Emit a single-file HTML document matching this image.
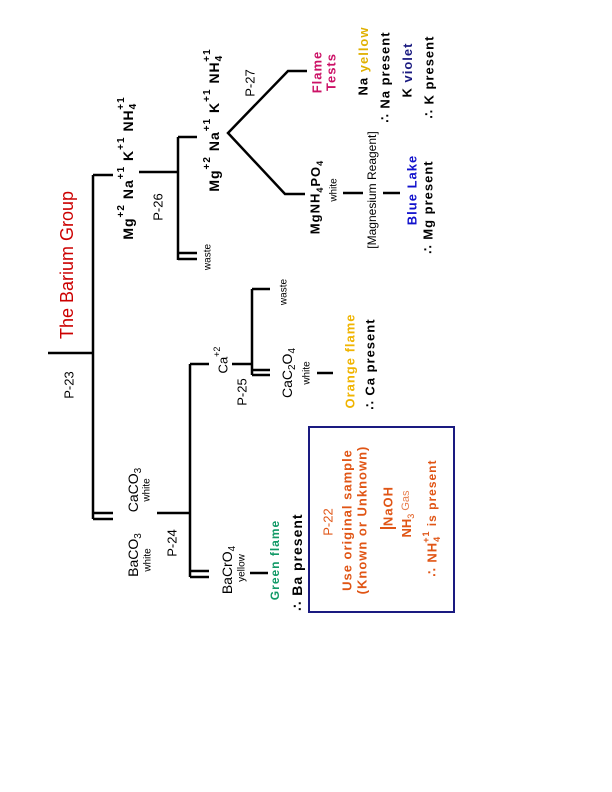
<!DOCTYPE html>
<html><head><meta charset="utf-8"><style>
html,body{margin:0;padding:0;background:#fff;}
svg{display:block;}
text{font-family:"Liberation Sans",Arial,sans-serif;}
.b{font-weight:bold;letter-spacing:1px;}
</style></head><body>
<svg width="612" height="792" viewBox="0 0 612 792" xmlns="http://www.w3.org/2000/svg">
<g stroke="#000" stroke-width="2.5" fill="none">
<line x1="48" y1="353" x2="93" y2="353"/>
<line x1="93" y1="175" x2="93" y2="519"/>
<line x1="93" y1="175" x2="113" y2="175"/>
<line x1="93" y1="513" x2="113" y2="513"/>
<line x1="93" y1="519" x2="113" y2="519"/>
<line x1="139" y1="172" x2="178" y2="172"/>
<line x1="178" y1="137" x2="178" y2="260"/>
<line x1="178" y1="137" x2="197" y2="137"/>
<line x1="178" y1="253" x2="197" y2="253"/>
<line x1="178" y1="259" x2="197" y2="259"/>
<polyline points="307,71 288,71 228,133 285,194 305,194"/>
<line x1="343" y1="193" x2="363" y2="193"/>
<line x1="383" y1="193" x2="400" y2="193"/>
<line x1="157" y1="513" x2="190" y2="513"/>
<line x1="190" y1="364" x2="190" y2="577"/>
<line x1="190" y1="364" x2="209" y2="364"/>
<line x1="190" y1="571" x2="209" y2="571"/>
<line x1="190" y1="577" x2="209" y2="577"/>
<line x1="232" y1="364" x2="252" y2="364"/>
<line x1="252" y1="289" x2="252" y2="375"/>
<line x1="252" y1="289" x2="270" y2="289"/>
<line x1="252" y1="370" x2="270" y2="370"/>
<line x1="252" y1="375" x2="270" y2="375"/>
<line x1="317" y1="373" x2="333" y2="373"/>
<line x1="250" y1="573" x2="268" y2="573"/>
</g>
<rect x="309" y="427" width="145" height="185" fill="none" stroke="#1a1a80" stroke-width="2"/>
<line x1="380" y1="528" x2="396" y2="528" stroke="#e05515" stroke-width="2"/>

<g text-anchor="middle" dominant-baseline="central" fill="#000">
<text transform="translate(67,265) rotate(-90)" font-size="18" fill="#cc0000">The Barium Group</text>
<text transform="translate(69,385) rotate(-90)" font-size="13">P-23</text>

<text class="b" transform="translate(128,168) rotate(-90)" font-size="14">Mg<tspan dy="-7" font-size="10">+2</tspan><tspan dy="7">  Na</tspan><tspan dy="-7" font-size="10">+1</tspan><tspan dy="7">  K</tspan><tspan dy="-7" font-size="10">+1</tspan><tspan dy="7">  NH</tspan><tspan dy="5" font-size="10">4</tspan><tspan dy="-12" font-size="10" dx="-7">+1</tspan></text>
<text transform="translate(158,207) rotate(-90)" font-size="13">P-26</text>
<text transform="translate(208,257) rotate(-90)" font-size="10">waste</text>

<text class="b" transform="translate(214,120) rotate(-90)" font-size="14">Mg<tspan dy="-7" font-size="10">+2</tspan><tspan dy="7">  Na</tspan><tspan dy="-7" font-size="10">+1</tspan><tspan dy="7">  K</tspan><tspan dy="-7" font-size="10">+1</tspan><tspan dy="7">  NH</tspan><tspan dy="5" font-size="10">4</tspan><tspan dy="-12" font-size="10" dx="-7">+1</tspan></text>
<text transform="translate(250,83) rotate(-90)" font-size="13">P-27</text>
<text class="b" transform="translate(317,72) rotate(-90)" font-size="13" fill="#cc1166">Flame</text>
<text class="b" transform="translate(331,72) rotate(-90)" font-size="13" fill="#cc1166">Tests</text>

<text class="b" transform="translate(315,197) rotate(-90)" font-size="13">MgNH<tspan dy="5" font-size="9">4</tspan><tspan dy="-5">PO</tspan><tspan dy="5" font-size="9">4</tspan></text>
<text transform="translate(334,190) rotate(-90)" font-size="10">white</text>
<text transform="translate(372,190) rotate(-90)" font-size="12">[Magnesium Reagent]</text>
<text class="b" transform="translate(363,61) rotate(-90)" font-size="13">Na <tspan fill="#e0b000">yellow</tspan></text>
<text class="b" transform="translate(385,77) rotate(-90)" font-size="13">∴ Na present</text>
<text class="b" transform="translate(407,70) rotate(-90)" font-size="13">K <tspan fill="#1a1a80">violet</tspan></text>
<text class="b" transform="translate(429,77) rotate(-90)" font-size="13">∴ K present</text>
<text class="b" transform="translate(412,190) rotate(-90)" font-size="13" fill="#1010cc">Blue Lake</text>
<text class="b" transform="translate(428,207) rotate(-90)" font-size="13">∴ Mg present</text>

<text transform="translate(284,292) rotate(-90)" font-size="10">waste</text>
<text transform="translate(223,360) rotate(-90)" font-size="13">Ca<tspan dy="-6" font-size="9">+2</tspan></text>
<text transform="translate(242,392) rotate(-90)" font-size="13">P-25</text>
<text transform="translate(287,373) rotate(-90)" font-size="14">CaC<tspan dy="5" font-size="10">2</tspan><tspan dy="-5">O</tspan><tspan dy="5" font-size="10">4</tspan></text>
<text transform="translate(307,373) rotate(-90)" font-size="10">white</text>
<text class="b" transform="translate(350,361) rotate(-90)" font-size="13" fill="#f0b400">Orange flame</text>
<text class="b" transform="translate(370,364) rotate(-90)" font-size="13">∴ Ca present</text>

<text transform="translate(133,490) rotate(-90)" font-size="14">CaCO<tspan dy="5" font-size="10">3</tspan></text>
<text transform="translate(147,490) rotate(-90)" font-size="10">white</text>
<text transform="translate(133,555) rotate(-90)" font-size="14">BaCO<tspan dy="5" font-size="10">3</tspan></text>
<text transform="translate(148,560) rotate(-90)" font-size="10">white</text>
<text transform="translate(172,543) rotate(-90)" font-size="13">P-24</text>
<text transform="translate(227,570) rotate(-90)" font-size="14">BaCrO<tspan dy="5" font-size="10">4</tspan></text>
<text transform="translate(242,568) rotate(-90)" font-size="10">yellow</text>
<text class="b" transform="translate(275,560) rotate(-90)" font-size="12" fill="#119966">Green flame</text>
<text class="b" transform="translate(297,562) rotate(-90)" font-size="14">∴ Ba present</text>

<g fill="#e05515">
<text transform="translate(328,522) rotate(-90)" font-size="13">P-22</text>
<text class="b" transform="translate(347,520) rotate(-90)" font-size="13">Use original sample</text>
<text class="b" transform="translate(362,520) rotate(-90)" font-size="13">(Known or Unknown)</text>
<text class="b" transform="translate(388,506) rotate(-90)" font-size="13">NaOH</text>
<text transform="translate(406,514) rotate(-90)" font-size="13"><tspan font-weight="bold">NH</tspan><tspan dy="5" font-size="9">3</tspan><tspan dy="-5" font-size="11" fill="#e88050">  Gas</tspan></text>
<text class="b" transform="translate(432,518) rotate(-90)" font-size="13">∴  NH<tspan dy="5" font-size="9">4</tspan><tspan dy="-11" font-size="9" dx="-7">+1</tspan><tspan dy="6" font-size="12"> is present</tspan></text>
</g>
</g>
</svg>
</body></html>
